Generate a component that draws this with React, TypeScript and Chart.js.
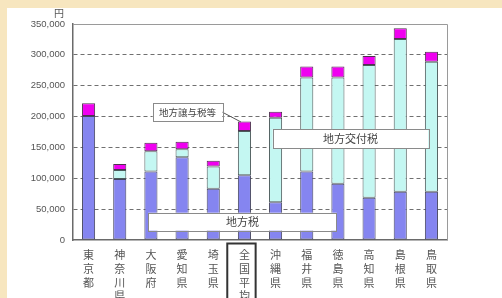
import React, { useEffect, useRef } from "react";
import { Chart, registerables } from "chart.js";

Chart.register(...registerables);

const categories: string[][] = [
  ["東", "京", "都"],
  ["神", "奈", "川", "県"],
  ["大", "阪", "府"],
  ["愛", "知", "県"],
  ["埼", "玉", "県"],
  ["全", "国", "平", "均"],
  ["沖", "縄", "県"],
  ["福", "井", "県"],
  ["徳", "島", "県"],
  ["高", "知", "県"],
  ["島", "根", "県"],
  ["鳥", "取", "県"],
];

const localTax = [201000, 99000, 111000, 134000, 83000, 105000, 61000, 111000, 91000, 68500, 78000, 78000];
const allocationTax = [0, 14500, 33000, 13000, 36000, 71500, 137000, 152500, 172500, 215000, 247500, 211000];
const transferTax = [20500, 9500, 13500, 12000, 9500, 15500, 10000, 17500, 17500, 14500, 17500, 16000];

const yTicks = [0, 50000, 100000, 150000, 200000, 250000, 300000, 350000];

const FONT_JP = "'Noto Sans CJK JP', 'Noto Sans', sans-serif";

function drawBox(ctx: CanvasRenderingContext2D, x1: number, y1: number, x2: number, y2: number, text: string, size: number) {
  ctx.save();
  ctx.fillStyle = "#ffffff";
  ctx.strokeStyle = "#8a8a8a";
  ctx.lineWidth = 1;
  ctx.setLineDash([]);
  ctx.fillRect(x1, y1, x2 - x1, y2 - y1);
  ctx.strokeRect(Math.round(x1) + 0.5, Math.round(y1) + 0.5, Math.round(x2 - x1), Math.round(y2 - y1));
  ctx.fillStyle = "#444";
  ctx.font = `${size}px ${FONT_JP}`;
  ctx.textAlign = "center";
  ctx.textBaseline = "middle";
  ctx.fillText(text, (x1 + x2) / 2, (y1 + y2) / 2 + 0.5);
  ctx.restore();
}

const annotationPlugin = {
  id: "annotations",
  afterDatasetsDraw(chart: any) {
    const { ctx, chartArea, scales } = chart;
    const xs = scales.x;
    const ys = scales.y;
    const X = (i: number) => xs.getPixelForValue(i);
    const Y = (v: number) => ys.getPixelForValue(v);
    // plot border
    ctx.save();
    ctx.setLineDash([]);
    ctx.strokeStyle = "#9a9a9a";
    ctx.lineWidth = 1;
    ctx.beginPath();
    ctx.moveTo(chartArea.left, chartArea.top + 0.5);
    ctx.lineTo(chartArea.right + 0.5, chartArea.top + 0.5);
    ctx.lineTo(chartArea.right + 0.5, chartArea.bottom);
    ctx.stroke();
    ctx.restore();

    // leader line
    ctx.save();
    ctx.setLineDash([]);
    ctx.strokeStyle = "#555";
    ctx.lineWidth = 1;
    ctx.beginPath();
    ctx.moveTo(X(4.29), (Y(221505) + Y(192824)) / 2);
    ctx.lineTo(X(4.89), Y(191200));
    ctx.stroke();
    ctx.restore();

    drawBox(ctx, X(2.057), Y(221505), X(4.29), Y(192824), "地方譲与税等", 9.5);
    drawBox(ctx, X(5.907), Y(179375), X(10.9), Y(148588), "地方交付税", 11);
    drawBox(ctx, X(1.916), Y(44236), X(7.96), Y(15069), "地方税", 11);

    // 円 unit label
    ctx.save();
    ctx.fillStyle = "#555";
    ctx.font = `10px ${FONT_JP}`;
    ctx.textAlign = "right";
    ctx.textBaseline = "middle";
    ctx.fillText("円", chartArea.left - 9, chartArea.top - 11);
    ctx.restore();

    // highlight box around 全国平均 label
    ctx.save();
    ctx.setLineDash([]);
    ctx.strokeStyle = "#333";
    ctx.lineWidth = 2;
    const bx1 = X(4.45);
    const bx2 = X(5.36);
    const by1 = chartArea.bottom + 3.5;
    ctx.beginPath();
    ctx.moveTo(bx1, chart.height + 2);
    ctx.lineTo(bx1, by1);
    ctx.lineTo(bx2, by1);
    ctx.lineTo(bx2, chart.height + 2);
    ctx.stroke();
    ctx.restore();
  },
};

export default function App() {
  const ref = useRef<HTMLCanvasElement | null>(null);

  useEffect(() => {
    if (!ref.current) return;
    const chart = new Chart(ref.current, {
      type: "bar",
      data: {
        labels: categories,
        datasets: [
          {
            label: "地方税",
            data: localTax,
            backgroundColor: "#8585f0",
            borderColor: "#454560",
            borderWidth: 1,
            borderSkipped: false,
            barPercentage: 0.42,
            categoryPercentage: 1,
          },
          {
            label: "地方交付税",
            data: allocationTax,
            backgroundColor: "#c4f7f2",
            borderColor: "#4a5a5a",
            borderWidth: 1,
            borderSkipped: false,
            barPercentage: 0.42,
            categoryPercentage: 1,
          },
          {
            label: "地方譲与税等",
            data: transferTax,
            backgroundColor: "#f000f0",
            borderColor: "#503050",
            borderWidth: 1,
            borderSkipped: false,
            barPercentage: 0.42,
            categoryPercentage: 1,
          },
        ],
      },
      options: {
        animation: false,
        responsive: true,
        maintainAspectRatio: false,
        layout: { padding: { left: 0, top: 24, right: 55, bottom: 0 } },
        plugins: {
          legend: { display: false },
          tooltip: { enabled: false },
        },
        scales: {
          x: {
            stacked: true,
            grid: { display: false, drawTicks: false },
            border: { color: "#6a6a6a", width: 1.5 },
            ticks: {
              color: "#555",
              padding: 8,
              maxRotation: 0,
              autoSkip: false,
              font: { family: FONT_JP, size: 11, lineHeight: 1.25 },
            },
            afterFit(scale: any) {
              scale.height = 58;
            },
          },
          y: {
            stacked: true,
            min: 0,
            max: 350000,
            afterBuildTicks(scale: any) {
              scale.ticks = yTicks.map((v) => ({ value: v }));
            },
            grid: {
              color: (c: any) => (c.tick && c.tick.value > 0 && c.tick.value < 350000 ? "#707070" : "rgba(0,0,0,0)"),
              drawTicks: false,
              lineWidth: 1,
            },
            border: { color: "#6a6a6a", width: 1.5, dash: [4, 3] },
            ticks: {
              color: "#555",
              padding: 8,
              font: { family: "'Liberation Sans', Arial, sans-serif", size: 9.5 },
              callback: (v: any) => Number(v).toLocaleString("en-US"),
            },
            afterFit(scale: any) {
              scale.width = 73;
            },
          },
        },
      } as any,
      plugins: [annotationPlugin],
    });
    return () => chart.destroy();
  }, []);

  return (
    <div style={{ position: "fixed", left: 0, top: 0, width: 502, height: 298, background: "#f7e6bf", overflow: "hidden" }}>
      <div style={{ position: "absolute", left: 7, top: 8, right: 0, bottom: 0, background: "#ffffff" }} />
      <div style={{ position: "absolute", left: 0, top: 0, width: 502, height: 298 }}>
        <canvas ref={ref} />
      </div>
    </div>
  );
}
